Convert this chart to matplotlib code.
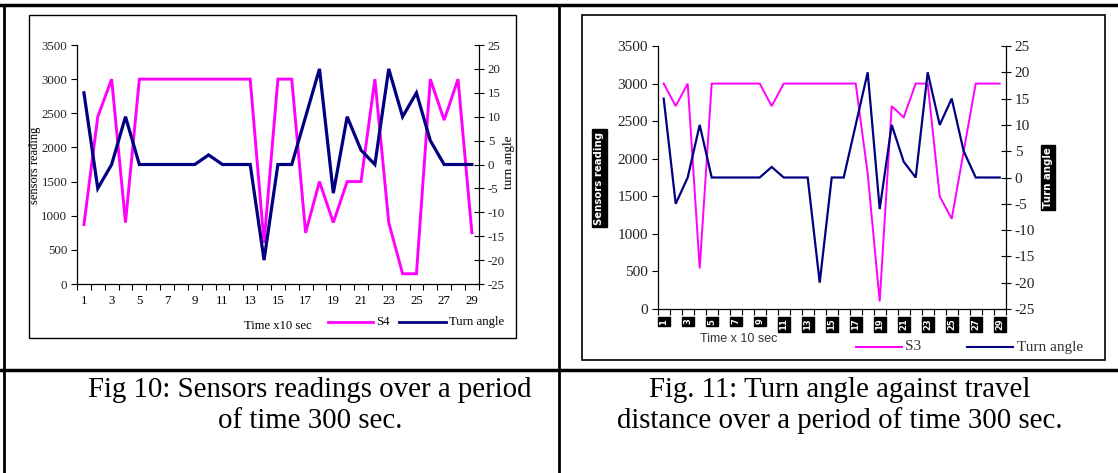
import numpy as np
import matplotlib.pyplot as plt
from matplotlib.patches import Rectangle
from matplotlib.lines import Line2D

W, H = 1118, 473

# data
time_idx = np.arange(1, 30)
s4 = [870, 2450, 3000, 900, 3000, 3000, 3000, 3000, 3000, 3000, 3000, 3000, 3000, 600,
      3000, 3000, 750, 1500, 900, 1500, 1500, 3000, 900, 150, 150, 3000, 2400, 3000, 750]
s3 = [3000, 2700, 3000, 540, 3000, 3000, 3000, 3000, 3000, 2700, 3000, 3000, 3000, 3000,
      3000, 3000, 3000, 1800, 100, 2700, 2550, 3000, 3000, 1500, 1200, 2100, 3000, 3000, 3000]
turn = [15, -5, 0, 10, 0, 0, 0, 0, 0, 2, 0, 0, 0, -20, 0, 0, 10, 20, -6, 10, 3, 0, 20,
        10, 15, 5, 0, 0, 0]
odd_ticks = list(range(1, 30, 2))
left_ticks = list(range(0, 3501, 500))
right_ticks = list(range(-25, 26, 5))

PINK = '#ff00ff'
NAVY = '#000080'
SERIF = 'Liberation Serif'
SANS = 'Liberation Sans'


def box(x0, y0, x1, y1):
    # pixel box -> figure fraction rect
    return [x0 / W, 1 - y1 / H, (x1 - x0) / W, (y1 - y0) / H]


def px(x, y):
    return x / W, 1 - y / H


fig = plt.figure(figsize=(W / 100, H / 100), dpi=100)

# table lines
for (x0, y0, x1, y1, lw) in [(0, 5, W, 5, 2.5), (4, 5, 4, H, 2), (559, 5, 559, H, 2),
                             (0, 370, W, 370, 2.5)]:
    fig.add_artist(Line2D([x0 / W, x1 / W], [1 - y0 / H, 1 - y1 / H], color='black', lw=lw))

# chart area frames
fig.add_artist(Rectangle(px(29, 338), 487 / W, 323 / H, fill=False, ec='black', lw=1.0))
fig.add_artist(Rectangle(px(582, 360), 523 / W, 345 / H, fill=False, ec='black', lw=1.2))


def make_chart(rect, sens, tick_size, lw_s, lw_t):
    ax = fig.add_axes(rect)
    ax.patch.set_alpha(0)
    ax.plot(time_idx, sens, color=PINK, lw=lw_s, solid_joinstyle='miter')
    ax.set_xlim(0.5, 29.5)
    ax.set_ylim(0, 3500)
    for s in ['top', 'right']:
        ax.spines[s].set_visible(False)
    ax.set_yticks(left_ticks)
    ax.set_yticklabels([str(v) for v in left_ticks], family=SERIF, fontsize=tick_size, color='#222222')
    ax.tick_params(axis='y', direction='out', length=4, width=0.8, pad=3)
    ax.set_xticks(np.arange(0.5, 30, 1), minor=True)
    ax.tick_params(axis='x', which='minor', direction='out', length=4, width=0.8)
    ax.tick_params(axis='x', which='major', length=0)
    axr = ax.twinx()
    axr.plot(time_idx, turn, color=NAVY, lw=lw_t, solid_joinstyle='miter')
    axr.set_ylim(-25, 25)
    axr.set_yticks(right_ticks)
    axr.set_yticklabels([('-' + str(-v)) if v < 0 else str(v) for v in right_ticks],
                        family=SERIF, fontsize=tick_size, color='#222222')
    axr.tick_params(axis='y', direction='inout', length=7, width=0.8, pad=3)
    for s in ['top', 'left', 'bottom']:
        axr.spines[s].set_visible(False)
    for a in (ax, axr):
        for s in a.spines.values():
            s.set_linewidth(0.9)
    return ax, axr


# ---- Fig 10 ----
ax1, ax1r = make_chart(box(77, 45, 478.8, 284), s4, 9.3, 2.1, 2.3)
ax1.set_xticks(odd_ticks)
ax1.set_xticklabels([str(v) for v in odd_ticks], family=SERIF, fontsize=9.3)
ax1.tick_params(axis='x', which='major', pad=8)
fig.text(*px(35, 165), 'sensors reading', rotation=90, ha='center', va='center', family=SERIF, fontsize=9)
fig.text(*px(509, 162), 'turn angle', rotation=90, ha='center', va='center', family=SERIF, fontsize=9.5)
fig.text(*px(278, 326), 'Time x10 sec', ha='center', va='center', family=SERIF, fontsize=9.1)
fig.add_artist(Line2D([328 / W, 373 / W], [1 - 322 / H] * 2, color=PINK, lw=2))
fig.text(*px(376, 322), 'S4', ha='left', va='center', family=SERIF, fontsize=9.3)
fig.add_artist(Line2D([399 / W, 446 / W], [1 - 322 / H] * 2, color=NAVY, lw=2))
fig.text(*px(449, 322), 'Turn angle', ha='left', va='center', family=SERIF, fontsize=9.3)

# ---- Fig 11 ----
ax2, ax2r = make_chart(box(657.7, 46, 1005.7, 309), s3, 11, 1.4, 1.6)
ax2.set_xticks(odd_ticks)
ax2.set_xticklabels([str(v) for v in odd_ticks], rotation=90, fontsize=6, color='white',
                    family='DejaVu Sans', weight='bold')
for lab in ax2.get_xticklabels():
    lab.set_bbox(dict(facecolor='black', edgecolor='black', pad=1.0))
ax2.tick_params(axis='x', which='major', pad=7)
lab_style = dict(rotation=90, ha='center', va='center', color='white', family='DejaVu Sans',
                 weight='bold', fontsize=7.3, bbox=dict(facecolor='black', edgecolor='black', pad=1.5))
fig.text(*px(599.5, 178), 'Sensors reading', **lab_style)
fig.text(*px(1048, 177.5), 'Turn angle', **lab_style)
fig.text(*px(739, 339), 'Time x 10 sec', ha='center', va='center', family=SANS, fontsize=9,
         color='#333333')
fig.add_artist(Line2D([856 / W, 902 / W], [1 - 347 / H] * 2, color=PINK, lw=1.5))
fig.text(*px(905, 347), 'S3', ha='left', va='center', family=SERIF, fontsize=11, color='#333333')
fig.add_artist(Line2D([967 / W, 1013 / W], [1 - 347 / H] * 2, color=NAVY, lw=1.5))
fig.text(*px(1017, 347), 'Turn angle', ha='left', va='center', family=SERIF, fontsize=11, color='#333333')

# captions
cap = dict(ha='center', va='center', family=SERIF, fontsize=20.8)
fig.text(*px(310, 390), 'Fig 10: Sensors readings over a period', **cap)
fig.text(*px(310, 421), 'of time 300 sec.', **cap)
fig.text(*px(840, 390), 'Fig. 11: Turn angle against travel', **cap)
fig.text(*px(840, 421), 'distance over a period of time 300 sec.', **cap)

fig.savefig('out.png', dpi=100)
